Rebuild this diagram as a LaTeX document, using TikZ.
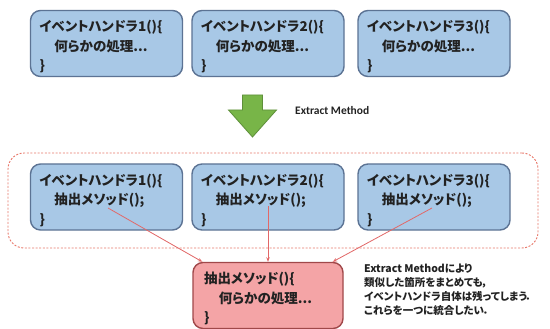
\documentclass[tikz,border=0pt]{standalone}
\usepackage{fontspec}
\setmainfont{Noto Sans CJK JP}[RawFeature=+palt]
\newfontfamily\latinb{Carlito}
\usetikzlibrary{arrows.meta}
\definecolor{bluefill}{HTML}{A8C8E6}
\definecolor{blueline}{HTML}{5C7394}
\definecolor{pinkfill}{HTML}{F4A4A6}
\definecolor{pinkline}{HTML}{A0484A}
\definecolor{dashred}{HTML}{E8786A}
\definecolor{connred}{HTML}{E26868}
\definecolor{greenfill}{HTML}{78B548}
\definecolor{greenline}{HTML}{5E8F3A}
\definecolor{txt}{HTML}{222222}
\newcommand{\topstrut}{\rule{0pt}{18pt}}
\tikzset{
  codebox/.style={draw=blueline, line width=1.4pt, fill=bluefill, rounded corners=10pt,
    minimum width=152pt, minimum height=65pt, text width=134pt, inner xsep=9pt,
    align=left, text=txt, font=\fontsize{13.5pt}{19.5pt}\selectfont\bfseries},
  methodbox/.style={codebox, draw=pinkline, fill=pinkfill, minimum width=150pt, minimum height=63pt,
    text width=128pt, inner xsep=11pt},
  groupframe/.style={draw=dashred, line width=0.9pt, dash pattern=on 2pt off 1.6pt, rounded corners=16pt,
    minimum width=530pt, minimum height=95pt},
  conn/.style={draw=connred, line width=0.8pt, -{Stealth[length=4.5pt,width=3.5pt]}},
  note/.style={anchor=north west, align=left, text=txt, inner sep=0pt,
    font=\fontsize{10.5pt}{13.8pt}\selectfont\bfseries}
}
\begin{document}
\begin{tikzpicture}[x=1pt,y=-1pt]
\useasboundingbox (0,0) rectangle (550,329);
\fill[white] (0,0) rectangle (550,329);

% top row
\node[codebox] (t1) at (106.5,43.5) {\topstrut イベントハンドラ1()\{\\\hspace*{1.1em}何らかの処理...\\\}};
\node[codebox] (t2) at (268,43.5) {\topstrut イベントハンドラ2()\{\\\hspace*{1.1em}何らかの処理...\\\}};
\node[codebox] (t3) at (434,43.5) {\topstrut イベントハンドラ3()\{\\\hspace*{1.1em}何らかの処理...\\\}};

% arrow
\draw[fill=greenfill, draw=greenline, line width=0.8pt, line join=miter]
  (242.5,95) -- (262.5,95) -- (262.5,110) -- (276.5,110) -- (252.5,137) -- (228.5,110) -- (242.5,110) -- cycle;
\node[anchor=west, inner sep=0pt, text=txt, font=\latinb\bfseries\fontsize{11.5pt}{13pt}\selectfont] (lbl) at (295,111) {Extract Method};

% group frame
\node[groupframe] (grp) at (273,200.5) {};

% middle row
\node[codebox] (m1) at (106.5,197) {\topstrut イベントハンドラ1()\{\\\hspace*{1.1em}抽出メソッド();\\\}};
\node[codebox] (m2) at (268,197) {\topstrut イベントハンドラ2()\{\\\hspace*{1.1em}抽出メソッド();\\\}};
\node[codebox] (m3) at (434,197) {\topstrut イベントハンドラ3()\{\\\hspace*{1.1em}抽出メソッド();\\\}};

% extracted method
\node[methodbox] (pm) at (268,295.5) {\topstrut 抽出メソッド()\{\\\hspace*{1.1em}何らかの処理...\\\}};

% connectors
\coordinate (s1) at (108,208);
\coordinate (s2) at (268,206);
\coordinate (s3) at (432,208);
\draw[conn] (s1) -- ([xshift=10pt]pm.north west);
\draw[conn] (s2) -- (pm.north);
\draw[conn] (s3) -- ([xshift=-11pt]pm.north east);

% note
\node[note] (nt) at (364,264) {Extract Methodにより\\類似した箇所をまとめても，\\イベントハンドラ自体は残ってしまう．\\これらを一つに統合したい．};
\end{tikzpicture}
\end{document}
